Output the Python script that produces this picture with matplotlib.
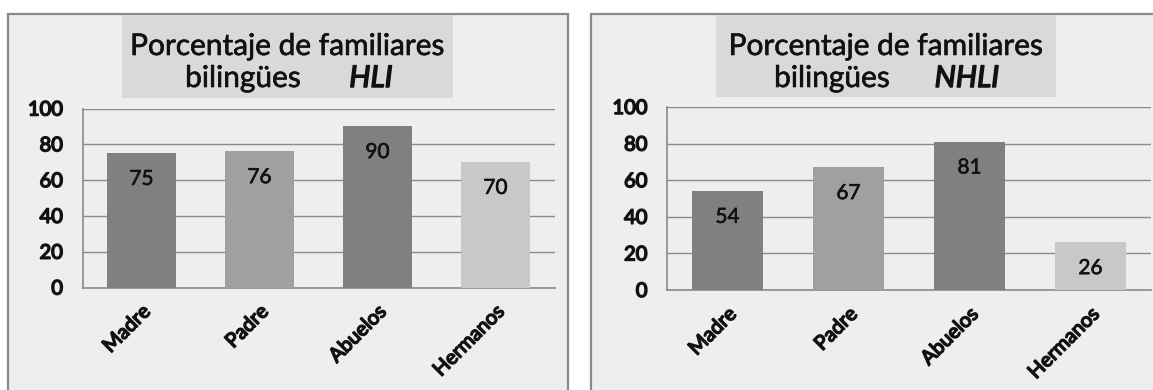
import matplotlib
matplotlib.use("Agg")
import matplotlib.pyplot as plt
import matplotlib.patheffects as pe
from matplotlib import font_manager as fm
from matplotlib.patches import Rectangle

# Data
categories = ["Madre", "Padre", "Abuelos", "Hermanos"]
hli_values = [75, 76, 90, 70]
nhli_values = [54, 67, 81, 26]
bar_colors = ["#808080", "#a0a0a0", "#808080", "#c8c8c8"]
y_ticks = [0, 20, 40, 60, 80, 100]
title_line1 = "Porcentaje de familiares"
title_word = "bilingües"
group_labels = ["HLI", "NHLI"]

W, H = 1153, 390
FONT = "Lato"
plt.rcParams["font.family"] = [FONT, "DejaVu Sans"]


def face(style="normal", size=12):
    """Regular Lato face of the given style."""
    return fm.FontProperties(family=FONT, weight="normal", style=style, size=size)


fig = plt.figure(figsize=(W / 100, H / 100), dpi=100)
fig.patch.set_facecolor("white")

TEXT = "#111111"
# stroke outlines to thicken the glyphs: light for body text, heavier for bold text
heavy = [pe.withStroke(linewidth=0.45, foreground=TEXT)]
bold = [pe.withStroke(linewidth=1.1, foreground=TEXT)]

title_fp = face(size=21.5)
tag_fp = face("italic", size=21.5)
value_fp = face(size=15)
tick_fp = face(size=14.5)


def fx(px):
    return px / W


def fy(py):
    return 1 - py / H


def rect_axes(x0, y0, x1, y1):
    return [fx(x0), fy(y1), fx(x1) - fx(x0), fy(y0) - fy(y1)]


panels = [
    dict(frame=(8, 14, 568, 400), plot=(82.5, 108.5, 554.5, 287.5),
         box=(122, 15, 453, 98), word_x=243, tag_x=371,
         values=hli_values, tag=group_labels[0]),
    dict(frame=(591, 14, 1170, 400), plot=(667, 107, 1151, 290),
         box=(716, 15, 1056, 97), word_x=832, tag_x=967,
         values=nhli_values, tag=group_labels[1]),
]

for p in panels:
    x0, y0, x1, y1 = p["frame"]
    fig.patches.append(Rectangle((fx(x0), fy(y1)), fx(x1) - fx(x0), fy(y0) - fy(y1),
                                 transform=fig.transFigure, facecolor="#eeeeee",
                                 edgecolor="#8a8a8a", linewidth=1.6, zorder=0))
    bx0, by0, bx1, by1 = p["box"]
    fig.patches.append(Rectangle((fx(bx0), fy(by1)), fx(bx1) - fx(bx0), fy(by0) - fy(by1),
                                 transform=fig.transFigure, facecolor="#d9d9d9",
                                 edgecolor="none", zorder=0.5))
    cx = (bx0 + bx1) / 2
    fig.text(fx(cx), fy(55), title_line1, ha="center", va="baseline",
             fontproperties=title_fp, color=TEXT, zorder=3, path_effects=heavy)
    fig.text(fx(p["word_x"]), fy(87), title_word, ha="center", va="baseline",
             fontproperties=title_fp, color=TEXT, zorder=3, path_effects=heavy)
    fig.text(fx(p["tag_x"]), fy(87), p["tag"], ha="center", va="baseline",
             fontproperties=tag_fp, color=TEXT, zorder=3, path_effects=bold)

    ax = fig.add_axes(rect_axes(*p["plot"]))
    ax.set_zorder(2)
    ax.set_facecolor("none")
    xs = range(len(categories))
    ax.bar(xs, p["values"], width=0.58, color=bar_colors, zorder=3)
    for xi, v in zip(xs, p["values"]):
        ax.annotate(f"{v}", (xi, v), xytext=(0, -18.5), textcoords="offset points",
                    ha="center", va="center", fontproperties=value_fp,
                    color=TEXT, zorder=4, path_effects=heavy)
    ax.set_xlim(-0.5, len(categories) - 0.5)
    ax.set_ylim(0, 100)
    ax.set_yticks(y_ticks)
    ax.set_yticklabels([str(t) for t in y_ticks], fontproperties=tick_fp, color=TEXT)
    ax.grid(axis="y", color="#8a8a8a", linewidth=1.0, zorder=1)
    ax.set_axisbelow(True)
    ax.tick_params(axis="y", length=0, pad=14)
    ax.tick_params(axis="x", length=0, pad=11)
    ax.set_xticks(list(xs))
    ax.set_xticklabels(categories, rotation=45, ha="right", rotation_mode="anchor",
                       fontproperties=tick_fp, color=TEXT)
    for lbl in ax.get_xticklabels() + ax.get_yticklabels():
        lbl.set_path_effects(bold)
    for s in ("top", "right"):
        ax.spines[s].set_visible(False)
    for s in ("left", "bottom"):
        ax.spines[s].set_color("#8a8a8a")
        ax.spines[s].set_linewidth(1.2)

fig.savefig("out.png", dpi=100)
